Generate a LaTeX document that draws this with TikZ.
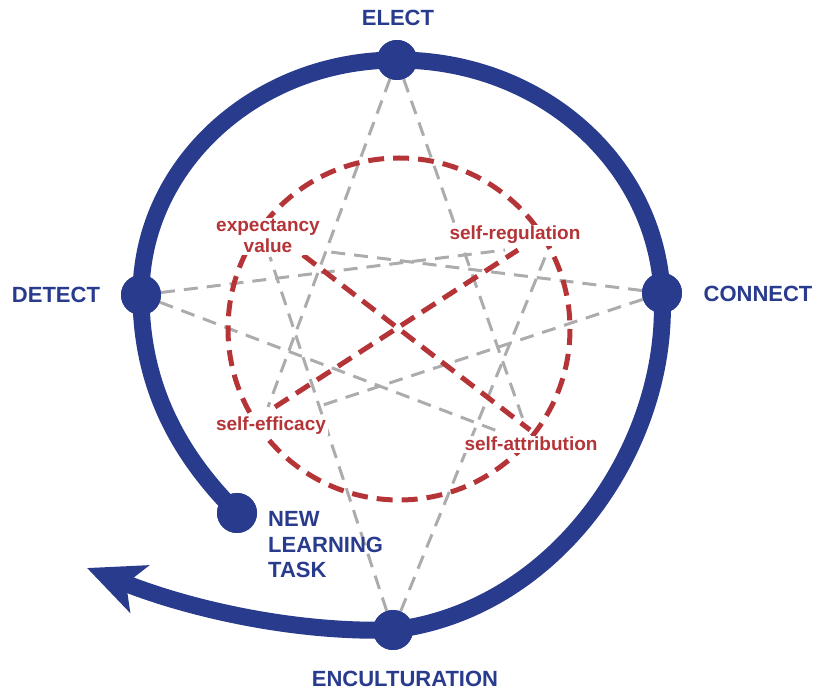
\documentclass[tikz,border=0pt]{standalone}
\usepackage{fontspec}
\setmainfont{Liberation Sans}
\usetikzlibrary{arrows.meta}

\definecolor{navy}{RGB}{41,59,141}
\definecolor{brick}{RGB}{181,52,56}
\definecolor{softgray}{RGB}{172,172,172}

\tikzset{
  stagedot/.style={circle, fill=navy, minimum size=40pt, inner sep=0pt},
  stagelabel/.style={text=navy, font=\bfseries\fontsize{22}{25.5}\selectfont, inner sep=0pt},
  factorlabel/.style={text=brick, fill=white, font=\bfseries\fontsize{19}{21}\selectfont,
    inner xsep=2pt, inner ysep=1.5pt},
  spiralpath/.style={draw=navy, line width=17pt,
    -{Stealth[length=56pt, width=50pt, inset=14pt]}},
  starline/.style={draw=softgray, line width=3pt, dash pattern=on 14pt off 9pt},
  factorline/.style={draw=brick, line width=5pt, dash pattern=on 16pt off 9pt},
}

\begin{document}
\begin{tikzpicture}[x=1pt, y=-1pt]
  \useasboundingbox (0,0) rectangle (815,692);

  % stage points on the spiral
  \coordinate (pElect) at (397,60);
  \coordinate (pDetect) at (141,295);
  \coordinate (pConnect) at (662,293);
  \coordinate (pEnc) at (393,630);
  \coordinate (pTask) at (237,513);
  \coordinate (tip) at (87,568);

  % inner ends of the star lines
  \coordinate (g1) at (268,407);
  \coordinate (g2) at (525,425);
  \coordinate (g3) at (505,250);
  \coordinate (g4) at (500,432);
  \coordinate (g5) at (330,252);
  \coordinate (g6) at (323,405);
  \coordinate (g7) at (270,257);
  \coordinate (g8) at (548,250);

  % ends of the crossing factor lines
  \coordinate (r1) at (303,255);
  \coordinate (r2) at (530,430);
  \coordinate (r3) at (275,407);
  \coordinate (r4) at (518,250);

  % stage dots (placed first so lines can start at their borders)
  \node[stagedot] (elect) at (pElect) {};
  \node[stagedot] (detect) at (pDetect) {};
  \node[stagedot] (connect) at (pConnect) {};
  \node[stagedot] (enc) at (pEnc) {};
  \node[stagedot] (task) at (pTask) {};

  % gray star
  \draw[starline] (elect) -- (g1);
  \draw[starline] (elect) -- (g2);
  \draw[starline] (detect) -- (g3);
  \draw[starline] (detect) -- (g4);
  \draw[starline] (connect) -- (g5);
  \draw[starline] (connect) -- (g6);
  \draw[starline] (enc) -- (g7);
  \draw[starline] (enc) -- (g8);

  % red inner circle and cross
  \draw[factorline] (399,329) circle[radius=171];
  \draw[factorline] (r1) -- (r2);
  \draw[factorline] (r3) -- (r4);

  % blue spiral
  \draw[spiralpath] (task.center)
    .. controls +(-50,-50) and +(0,100) .. (detect.center)
    .. controls +(0,-130) and +(-141,0) .. (elect.center)
    .. controls +(146,0) and +(-6,-128) .. (connect.center)
    .. controls +(8,150) and +(165,-20) .. (enc.center)
    .. controls +(-100,3) and +(100,40) .. (tip);

  % redraw dots on top of the spiral
  \foreach \p in {pElect,pDetect,pConnect,pEnc,pTask}
    \fill[navy] (\p) circle[radius=20];

  % stage labels
  \node[stagelabel, anchor=base] (tElect) at (398,26) {ELECT};
  \node[stagelabel, anchor=base] (tDetect) at (56,303) {DETECT};
  \node[stagelabel, anchor=base] (tConnect) at (758,302) {CONNECT};
  \node[stagelabel, anchor=base] (tEnc) at (405,687) {ENCULTURATION};
  \node[stagelabel, anchor=base west, align=left] (tTask) at (268,578)
    {NEW\\LEARNING\\TASK};

  % factor labels on white patches
  \node[factorlabel, anchor=base, align=center] (tExp) at (268,253)
    {expectancy\\value};
  \node[factorlabel, anchor=base] (tReg) at (515,240) {self-regulation};
  \node[factorlabel, anchor=base] (tEff) at (271,431) {self-efficacy};
  \node[factorlabel, anchor=base] (tAtt) at (531,451) {self-attribution};
\end{tikzpicture}
\end{document}
